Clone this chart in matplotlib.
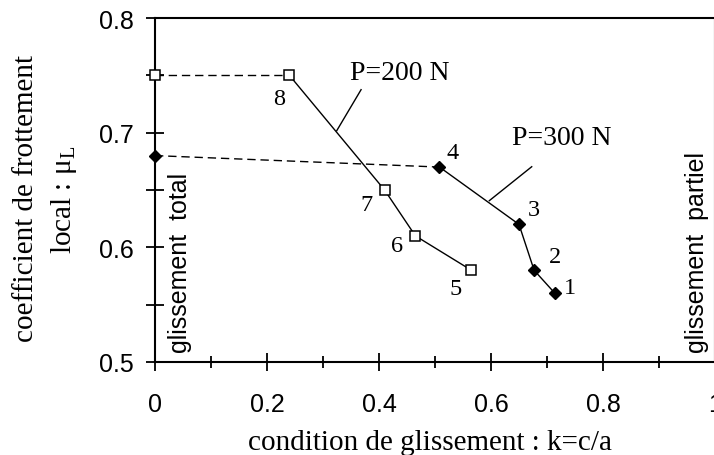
import matplotlib
matplotlib.use("Agg")
import matplotlib.pyplot as plt
from matplotlib.ticker import MultipleLocator

plt.rcParams['mathtext.fontset'] = 'custom'
plt.rcParams['mathtext.rm'] = 'Liberation Serif'

# P = 200 N (open squares), points 5..8
k200 = [0.565, 0.465, 0.41, 0.24]
mu200 = [0.58, 0.61, 0.65, 0.75]
lab200 = ["5", "6", "7", "8"]

# P = 300 N (filled diamonds), points 1..4
k300 = [0.714, 0.677, 0.65, 0.508]
mu300 = [0.56, 0.58, 0.62, 0.67]
lab300 = ["1", "2", "3", "4"]

# total sliding values (k = 0)
mu200_total = 0.75
mu300_total = 0.68

serif = "Liberation Serif"
sans = "Liberation Sans"
dash = (0, (6, 3.5))

fig = plt.figure(figsize=(7.14, 4.56), dpi=100)
ax = fig.add_axes([155/714, 93/456, 560/714, 344/456])

# dashed links to k=0
ax.plot([0, k200[-1]], [mu200_total, mu200[-1]], ls=dash, color="k", lw=1.0)
ax.plot([0, k300[-1]], [mu300_total, mu300[-1]], ls=dash, color="k", lw=1.0)

ax.plot(k200, mu200, color="k", lw=1.0, marker="s", ms=6.5, mfc="white", mec="k", mew=1.1)
ax.plot(k300, mu300, color="k", lw=1.0, marker="D", ms=6.5, mfc="k", mec="k")
ax.plot([0], [mu200_total], marker="s", ms=6.5, mfc="white", mec="k", mew=1.1, clip_on=False, zorder=5)
ax.plot([0], [mu300_total], marker="D", ms=6.5, mfc="k", mec="k", clip_on=False, zorder=5)

# point numbers
pos200 = [(0.536, 0.5637), (0.432, 0.6012), (0.378, 0.6372), (0.221, 0.7302)]
for (x, y), t in zip(pos200, lab200):
    ax.text(x, y, t, fontfamily=serif, fontsize=17.5, ha="center", va="center")
pos300 = [(0.741, 0.5654), (0.714, 0.5916), (0.677, 0.6334), (0.532, 0.6831)]
for (x, y), t in zip(pos300, lab300):
    ax.text(x, y, t, fontfamily=serif, fontsize=17.5, ha="center", va="center")

# load annotations with leader lines
ax.plot([0.3245, 0.368], [0.7017, 0.7375], color="k", lw=1.0)
ax.text(0.4366, 0.7529, "P=200 N", fontfamily=serif, fontsize=20, ha="center", va="center")
ax.plot([0.597, 0.6727], [0.6407, 0.6703], color="k", lw=1.0)
ax.text(0.727, 0.6962, "P=300 N", fontfamily=serif, fontsize=20, ha="center", va="center")

# regime labels
ax.text(0.0446, 0.5087, "glissement  total", rotation=90, fontfamily=sans, fontsize=18,
        ha="center", va="bottom")
ax.text(0.968, 0.5087, "glissement  partiel", rotation=90, fontfamily=sans, fontsize=18,
        ha="center", va="bottom")

ax.set_xlim(0, 1)
ax.set_ylim(0.5, 0.8)
ax.set_xticks([0, 0.2, 0.4, 0.6, 0.8, 1.0])
ax.set_xticklabels(["0", "0.2", "0.4", "0.6", "0.8", "1"])
ax.xaxis.set_minor_locator(MultipleLocator(0.1))
ax.set_yticks([0.5, 0.6, 0.7, 0.8])
ax.set_yticklabels(["0.5", "0.6", "0.7", "0.8"])
ax.yaxis.set_minor_locator(MultipleLocator(0.05))
ax.tick_params(which="both", direction="inout", width=1.3, labelsize=18, color="k")
ax.tick_params(axis="x", which="major", length=13, pad=15)
ax.tick_params(axis="x", which="minor", length=9)
ax.tick_params(axis="y", which="both", length=13, pad=9)
for lab in ax.get_xticklabels() + ax.get_yticklabels():
    lab.set_fontfamily(sans)

for s in ax.spines.values():
    s.set_linewidth(1.5)

fig.text(430/714, 1 - 450/456, "condition de glissement : k=c/a", fontfamily=serif,
         fontsize=21, ha="center", va="baseline")
fig.text(26/714, 1 - 198/456, "coefficient de frottement", rotation=90, fontfamily=serif,
         fontsize=21, ha="center", va="center")
fig.text(64/714, 1 - 200/456, "local : μ$_\\mathrm{L}$", rotation=90, fontfamily=serif,
         fontsize=21, ha="center", va="center")

fig.savefig("out.png", dpi=100)
